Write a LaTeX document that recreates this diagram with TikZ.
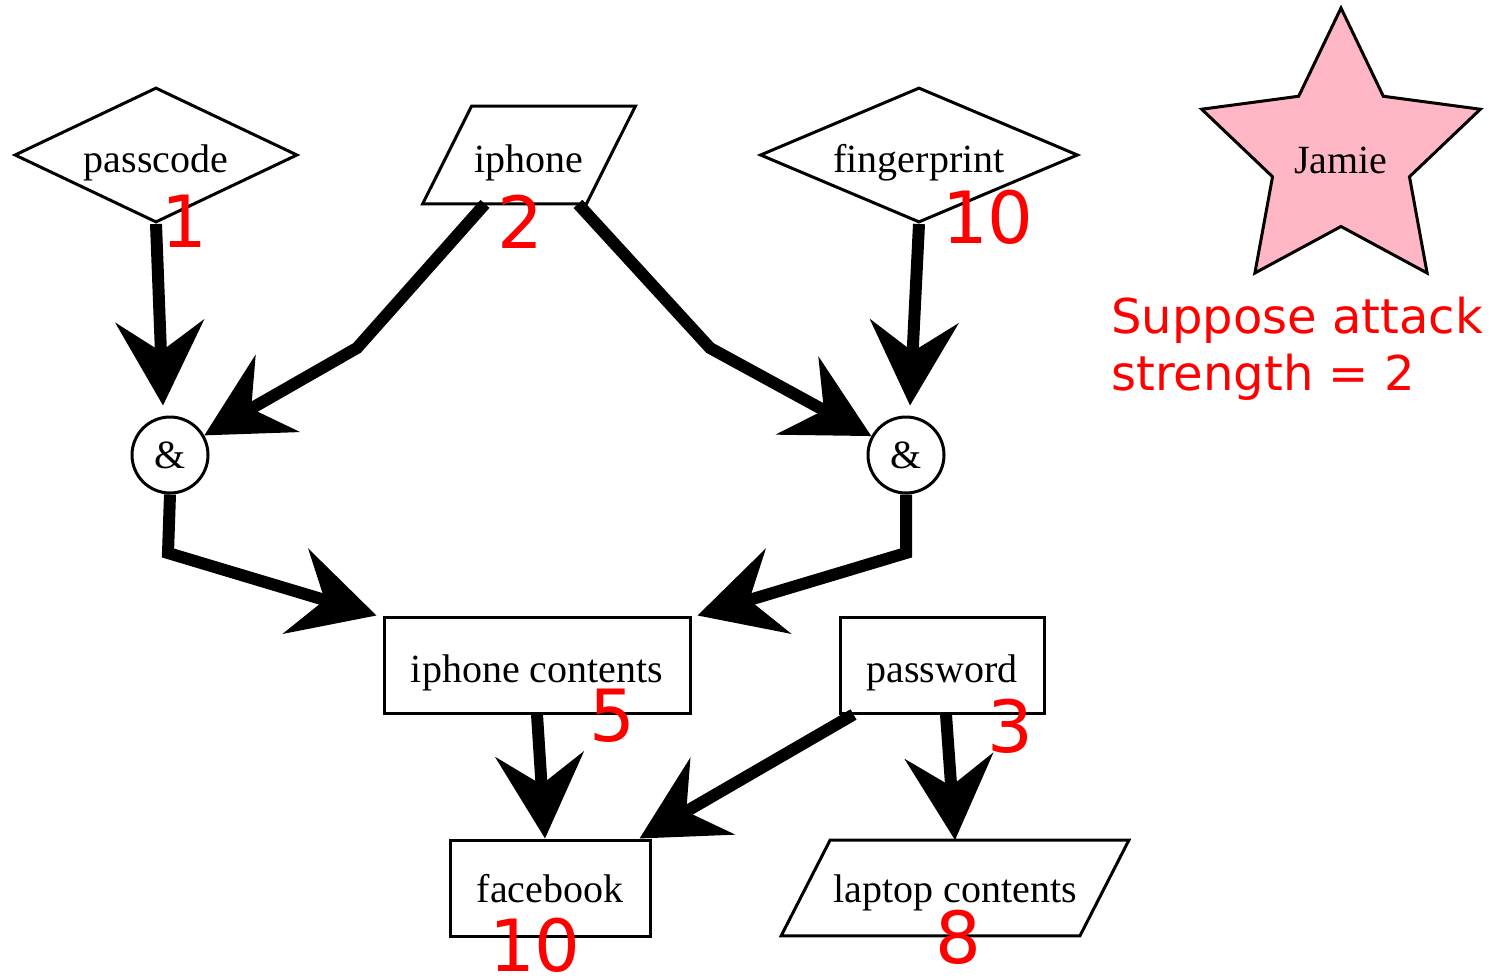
\documentclass[tikz,border=0pt]{standalone}
\usepackage{fontspec}
\setmainfont{Liberation Serif}
\newfontfamily\dejavu{DejaVu Sans}
\usetikzlibrary{shapes.geometric,arrows.meta,calc}
\definecolor{starpink}{RGB}{255,182,197}
\definecolor{lblred}{RGB}{255,0,0}
\begin{document}
\begin{tikzpicture}[x=0.5pt,y=-0.5pt,
  every node/.style={font=\fontsize{20}{24}\selectfont},
  lowtext/.style={text height=17pt,text depth=0pt},
  lowtextb/.style={text height=14.5pt,text depth=0pt},
  dia/.style={diamond,draw,line width=1.5pt,inner sep=0pt,minimum height=67.5pt,lowtext},
  box/.style={rectangle,draw,line width=1.5pt,inner sep=0pt,minimum height=48pt,lowtext},
  pgram/.style={rectangle,draw=none,inner sep=0pt,lowtext},
  andnode/.style={circle,draw,line width=1.5pt,inner sep=0pt,minimum size=38pt},
  pgline/.style={line width=1.5pt,line join=miter},
  arr/.style={line width=6pt,-{Stealth[length=42pt,width=44pt,inset=15pt]}},
  num/.style={text=lblred,font=\dejavu\fontsize{36}{40}\selectfont,inner sep=0pt},
  note/.style={text=lblred,font=\dejavu\fontsize{24}{28}\selectfont,inner sep=0pt,anchor=base west}
]
\useasboundingbox (0,0) rectangle (1493,979);

% nodes
\node[dia,minimum width=141.5pt,aspect=2.1] (passcode) at (156,155) {passcode};
\node[pgram,minimum width=81.5pt,minimum height=48.5pt] (iphone) at (529,155) {iphone};
\draw[pgline] ([xshift=12.25pt]iphone.north west) -- ([xshift=12.25pt]iphone.north east)
  -- ([xshift=-12.25pt]iphone.south east) -- ([xshift=-12.25pt]iphone.south west) -- cycle;
\node[dia,minimum width=159pt,aspect=2.35] (fingerprint) at (919,155) {fingerprint};

\node[andnode] (andL) at (170,455) {\&};
\node[andnode] (andR) at (906,455) {\&};

\node[box,minimum width=153pt] (ipc) at (537,665) {iphone contents};
\node[box,minimum width=102pt] (password) at (942,665) {password};
\node[box,minimum width=100pt,lowtextb] (fb) at (550,888) {facebook};
\node[pgram,minimum width=149pt,minimum height=47.5pt,lowtextb] (laptop) at (955,888) {laptop contents};
\draw[pgline] ([xshift=12.25pt]laptop.north west) -- ([xshift=12.25pt]laptop.north east)
  -- ([xshift=-12.25pt]laptop.south east) -- ([xshift=-12.25pt]laptop.south west) -- cycle;

% star
\coordinate (sc) at (1341,154.5);
\draw[line width=1.5pt,fill=starpink,line join=miter]
  ($(sc)+(-90:146.5)$) -- ($(sc)+(-54:72)$) -- ($(sc)+(-18:146.5)$) -- ($(sc)+(18:72)$)
  -- ($(sc)+(54:146.5)$) -- ($(sc)+(90:72)$) -- ($(sc)+(126:146.5)$) -- ($(sc)+(162:72)$)
  -- ($(sc)+(198:146.5)$) -- ($(sc)+(234:72)$) -- cycle;
\node (jamie) at (1341,160) {Jamie};

\node[note] (note1) at (1111,333) {Suppose attack};
\node[note] (note2) at (1111,390) {strength = 2};

% bend coordinates
\coordinate (bl) at (357,348);
\coordinate (br) at (710,348);
\coordinate (dl) at (168,553);
\coordinate (dr) at (906,553);

% edges
\draw[arr] (passcode.south) -- ([xshift=-3.5pt,yshift=5pt]andL.north);
\draw[arr] ([xshift=-22pt]iphone.south) -- (bl) -- (andL);
\draw[arr] ([xshift=24.5pt]iphone.south) -- (br) -- (andR);
\draw[arr] (fingerprint.south) -- ([xshift=2pt,yshift=5pt]andR.north);
\draw[arr] (andL.south) -- (dl) -- ([xshift=-3pt]ipc.north west);
\draw[arr] (andR.south) -- (dr) -- ([xshift=3pt]ipc.north east);
\draw[arr] (ipc.south) -- ([xshift=-2.5pt]fb.north);
\draw[arr] ([xshift=7.5pt]password.south west) -- ([xshift=-6pt]fb.north east);
\draw[arr] ([xshift=2pt]password.south) -- (laptop.north);

% numbers
\node[num] (n1) at (184,221) {1};
\node[num] (n2) at (520,222) {2};
\node[num] (n3) at (988,217) {10};
\node[num] (n4) at (612,716) {5};
\node[num] (n5) at (1010,726) {3};
\node[num] (n6) at (535,945) {10};
\node[num] (n7) at (958,937) {8};
\end{tikzpicture}
\end{document}
